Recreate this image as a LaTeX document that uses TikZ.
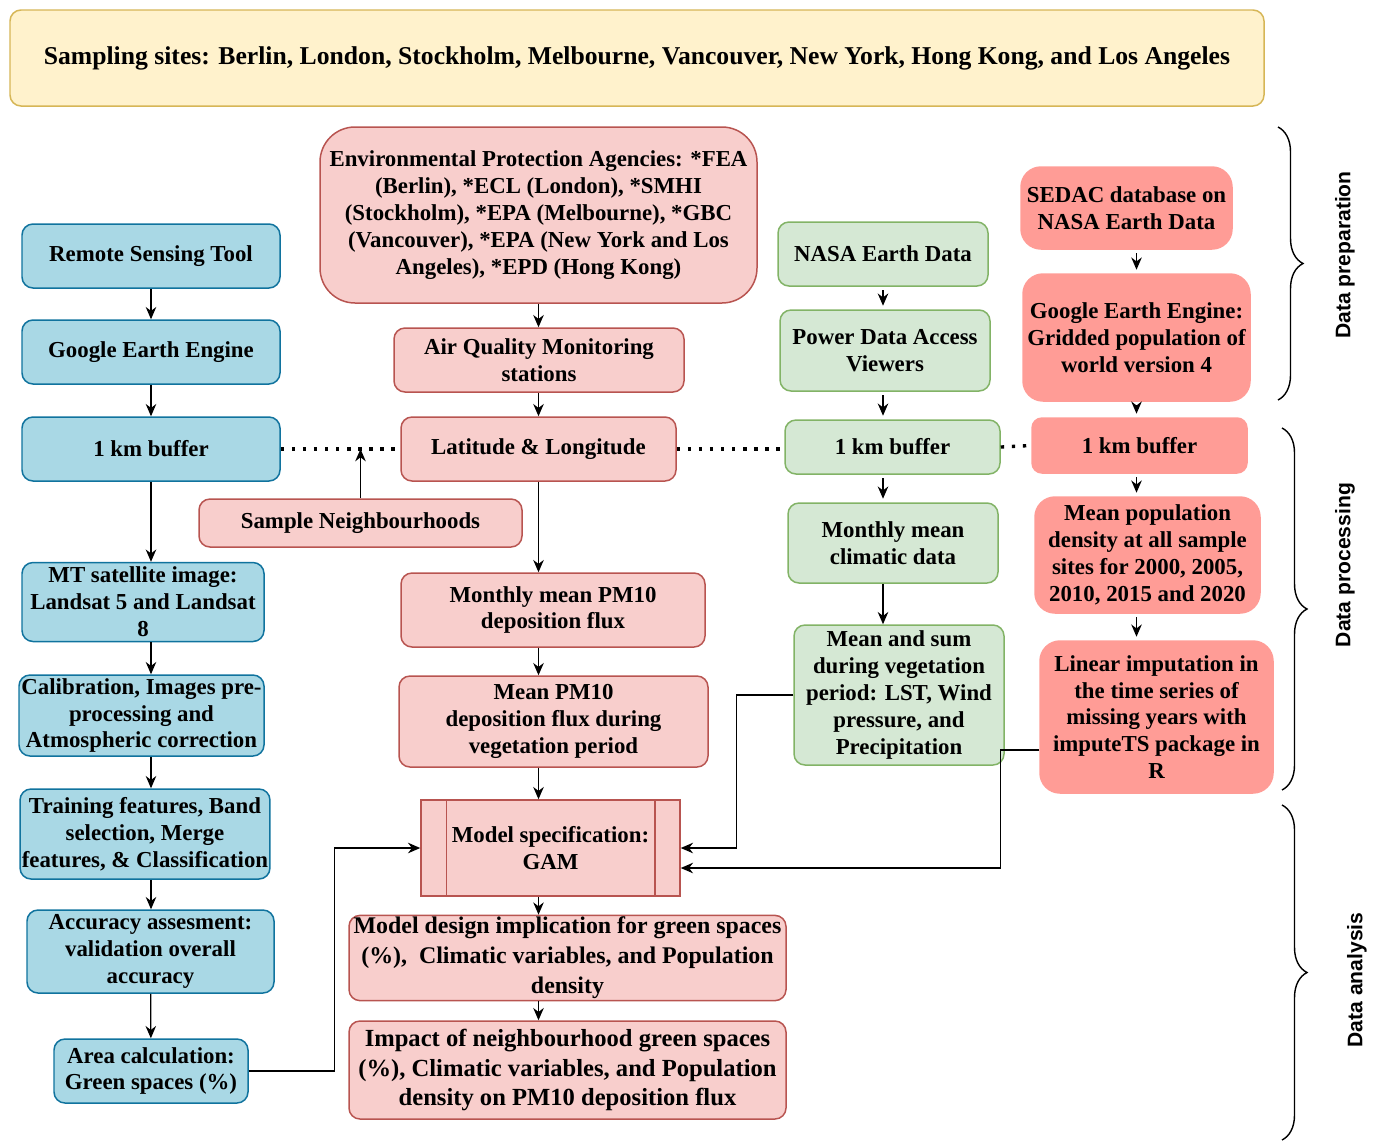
\documentclass[tikz,border=0pt]{standalone}
\usepackage{fontspec}
\setmainfont{Liberation Serif}
\setsansfont{Liberation Sans}
\usetikzlibrary{arrows.meta,decorations.pathreplacing}
\definecolor{blueFill}{HTML}{A9D8E5}
\definecolor{blueLine}{HTML}{10739E}
\definecolor{redFill}{HTML}{F8CECC}
\definecolor{redLine}{HTML}{B85450}
\definecolor{greenFill}{HTML}{D5E8D4}
\definecolor{greenLine}{HTML}{82B366}
\definecolor{salmonFill}{HTML}{FF9C96}
\definecolor{yellowFill}{HTML}{FFF2CC}
\definecolor{yellowLine}{HTML}{D6B656}

\begin{document}
\begin{tikzpicture}[
        every node/.style={align=center,inner sep=1pt,
            font=\bfseries\fontsize{13}{15.3}\selectfont},
        box/.style={draw,line width=0.85pt,rounded corners=0.22cm},
        blueBox/.style={box,fill=blueFill,draw=blueLine},
        redBox/.style={box,fill=redFill,draw=redLine},
        greenBox/.style={box,fill=greenFill,draw=greenLine},
        salmonBox/.style={box,fill=salmonFill,draw=salmonFill,rounded corners=0.4cm},
        arrowLine/.style={-{Stealth[length=7pt,width=6pt]},line width=0.7pt},
        dotLine/.style={line width=1.9pt,dash pattern=on 1.9pt off 4.4pt},
        sideBrace/.style={decorate,decoration={brace,amplitude=0.5cm},line width=0.8pt},
        sideLabel/.style={rotate=90,font=\sffamily\bfseries\fontsize{12}{14}\selectfont}]
        \useasboundingbox (0,0) rectangle (27.46,-22.8);
        % title
        \node[box,fill=yellowFill,draw=yellowLine,minimum width=25.08cm,minimum height=1.92cm,
            font=\bfseries\fontsize{14.6}{17}\selectfont] (sites) at (12.74,-1.16)
            {Sampling sites: Berlin, London, Stockholm, Melbourne, Vancouver, New York, Hong Kong, and Los Angeles};
        % remote sensing column
        \node[blueBox,minimum width=5.16cm,minimum height=1.28cm] (rst) at (3.02,-5.12) {Remote Sensing Tool};
        \node[blueBox,minimum width=5.16cm,minimum height=1.28cm] (gee) at (3.02,-7.04) {Google Earth Engine};
        \node[blueBox,minimum width=5.16cm,minimum height=1.28cm] (bufb) at (3.02,-8.98) {1 km buffer};
        \node[blueBox,minimum width=4.84cm,minimum height=1.58cm] (mt) at (2.86,-12.04)
            {MT satellite image:\\Landsat 5 and Landsat\\8};
        \node[blueBox,minimum width=4.9cm,minimum height=1.62cm] (cal) at (2.83,-14.31)
            {Calibration, Images pre-\\processing and\\Atmospheric correction};
        \node[blueBox,minimum width=4.92cm,minimum height=1.8cm] (trn) at (2.9,-16.68)
            {Training features, Band\\selection, Merge\\features, \& Classification};
        \node[blueBox,minimum width=4.94cm,minimum height=1.66cm] (acc) at (3.01,-19.03)
            {Accuracy assesment:\\validation overall\\accuracy};
        \node[blueBox,minimum width=3.88cm,minimum height=1.28cm] (area) at (3.02,-21.42)
            {Area calculation:\\Green spaces (\%)};
        % air quality column
        \node[redBox,rounded corners=0.7cm,minimum width=8.74cm,minimum height=3.52cm] (epa) at (10.77,-4.3)
            {Environmental Protection Agencies: *FEA\\(Berlin), *ECL (London), *SMHI\\(Stockholm), *EPA (Melbourne), *GBC\\(Vancouver), *EPA (New York and Los\\Angeles), *EPD (Hong Kong)};
        \node[redBox,minimum width=5.8cm,minimum height=1.28cm] (aqm) at (10.78,-7.2) {Air Quality Monitoring\\stations};
        \node[redBox,minimum width=5.5cm,minimum height=1.28cm] (lat) at (10.77,-8.98) {Latitude \& Longitude};
        \node[redBox,minimum width=6.46cm,minimum height=0.96cm] (smp) at (7.21,-10.46) {Sample Neighbourhoods};
        \node[redBox,minimum width=6.08cm,minimum height=1.48cm] (mpm) at (11.06,-12.2) {Monthly mean PM10\\deposition flux};
        \node[redBox,minimum width=6.18cm,minimum height=1.82cm] (vpm) at (11.07,-14.43)
            {Mean PM10\\deposition flux during\\vegetation period};
        \node[redBox,rounded corners=0pt,minimum width=5.18cm,minimum height=1.92cm] (gam) at (11.01,-16.96)
            {Model specification:\\GAM};
        \draw[redLine,line width=0.85pt] ([xshift=0.52cm]gam.north west) -- ([xshift=0.52cm]gam.south west)
            ([xshift=-0.52cm]gam.north east) -- ([xshift=-0.52cm]gam.south east);
        \node[redBox,minimum width=8.74cm,minimum height=1.6cm,font=\bfseries\fontsize{13.6}{17}\selectfont] (dsg) at (11.35,-19.16)
            {Model design implication for green spaces\\(\%),~ Climatic variables, and Population\\density};
        \node[redBox,minimum width=8.74cm,minimum height=1.96cm,font=\bfseries\fontsize{14}{17}\selectfont] (imp) at (11.35,-21.4)
            {Impact of neighbourhood green spaces\\(\%), Climatic variables, and Population\\density on PM10 deposition flux};
        % climate column
        \node[greenBox,minimum width=4.2cm,minimum height=1.28cm] (nasa) at (17.66,-5.08) {NASA Earth Data};
        \node[greenBox,minimum width=4.2cm,minimum height=1.62cm] (pow) at (17.7,-7.01) {Power Data Access\\Viewers};
        \node[greenBox,minimum width=4.3cm,minimum height=1.08cm] (bufg) at (17.85,-8.94) {1 km buffer};
        \node[greenBox,minimum width=4.2cm,minimum height=1.6cm] (clim) at (17.86,-10.86) {Monthly mean\\climatic data};
        \node[greenBox,minimum width=4.2cm,minimum height=2.8cm] (msum) at (17.98,-13.9)
            {Mean and sum\\during vegetation\\period: LST, Wind\\pressure, and\\Precipitation};
        % population column
        \node[salmonBox,minimum width=4.22cm,minimum height=1.64cm] (sed) at (22.53,-4.16) {SEDAC database on\\NASA Earth Data};
        \node[salmonBox,minimum width=4.54cm,minimum height=2.54cm] (ggp) at (22.73,-6.75)
            {Google Earth Engine:\\Gridded population of\\world version 4};
        \node[salmonBox,rounded corners=0.2cm,minimum width=4.3cm,minimum height=1.1cm] (bufs) at (22.79,-8.91) {1 km buffer};
        \node[salmonBox,minimum width=4.5cm,minimum height=2.32cm] (pop) at (22.95,-11.1)
            {Mean population\\density at all sample\\sites for 2000, 2005,\\2010, 2015 and 2020};
        \node[salmonBox,minimum width=4.66cm,minimum height=3.04cm] (lin) at (23.13,-14.34)
            {Linear imputation in\\the time series of\\missing years with\\imputeTS package in\\R};
        % arrows
        \draw[arrowLine] (rst) -- (gee);
        \draw[arrowLine] (gee) -- (bufb);
        \draw[arrowLine] (bufb.south) -- (bufb.south |- mt.north);
        \draw[arrowLine] (bufb.south |- mt.south) -- (bufb.south |- cal.north);
        \draw[arrowLine] (bufb.south |- cal.south) -- (bufb.south |- trn.north);
        \draw[arrowLine] (bufb.south |- trn.south) -- (bufb.south |- acc.north);
        \draw[arrowLine] (acc) -- (area);
        \draw[arrowLine] (area.east) -- ++(1.72,0) |- (gam.west);
        \draw[arrowLine] (epa.south) -- (epa.south |- aqm.north);
        \draw[arrowLine] (epa.south |- aqm.south) -- (epa.south |- lat.north);
        \draw[arrowLine] (lat.south) -- (lat.south |- mpm.north);
        \draw[arrowLine] (lat.south |- mpm.south) -- (lat.south |- vpm.north);
        \draw[arrowLine] (lat.south |- vpm.south) -- (lat.south |- gam.north);
        \draw[arrowLine] (lat.south |- gam.south) -- (lat.south |- dsg.north);
        \draw[arrowLine] (lat.south |- dsg.south) -- (lat.south |- imp.north);
        \coordinate (nbh) at (smp.north |- bufb.east);
        \draw[arrowLine] (smp.north) -- (nbh);
        \draw[arrowLine] ([yshift=-2pt]nasa.south) -- ([yshift=2pt]nasa.south |- pow.north);
        \draw[arrowLine] ([yshift=-2pt]nasa.south |- pow.south) -- ([yshift=2pt]nasa.south |- bufg.north);
        \draw[arrowLine] ([yshift=-2pt]nasa.south |- bufg.south) -- ([yshift=2pt]nasa.south |- clim.north);
        \draw[arrowLine] (nasa.south |- clim.south) -- (nasa.south |- msum.north);
        \draw[arrowLine] (msum.west) -- ++(-1.14,0) |- (gam.east);
        \draw[arrowLine] ([yshift=-2pt]sed.south -| ggp.south) -- ([yshift=2pt]ggp.north);
        \draw[arrowLine] ([yshift=-2pt]ggp.south) -- ([yshift=2pt]ggp.south |- bufs.north);
        \draw[arrowLine] ([yshift=-2pt]ggp.south |- bufs.south) -- ([yshift=2pt]ggp.south |- pop.north);
        \draw[arrowLine] ([yshift=-2pt]ggp.south |- pop.south) -- ([yshift=2pt]ggp.south |- lin.north);
        \draw[arrowLine] ([yshift=-0.66cm]lin.west) -- ++(-0.78,0) |- ([yshift=-0.4cm]gam.east);
        % dotted links between buffers
        \draw[dotLine] (bufb.east) -- (lat.west);
        \draw[dotLine] (lat.east) -- (lat.east -| bufg.west);
        \draw[dotLine] (bufg.east) -- (bufs.west);
        % stages
        \draw[sideBrace] (25.56,-2.54) -- (25.56,-8.0);
        \draw[sideBrace] (25.64,-8.56) -- (25.64,-15.8);
        \draw[sideBrace] (25.64,-16.1) -- (25.64,-22.8);
        \node[sideLabel] (prep) at (26.9,-5.1) {Data preparation};
        \node[sideLabel] (proc) at (26.9,-11.3) {Data processing};
        \node[sideLabel] (anal) at (27.14,-19.6) {Data analysis};
    \end{tikzpicture}
\end{document}
